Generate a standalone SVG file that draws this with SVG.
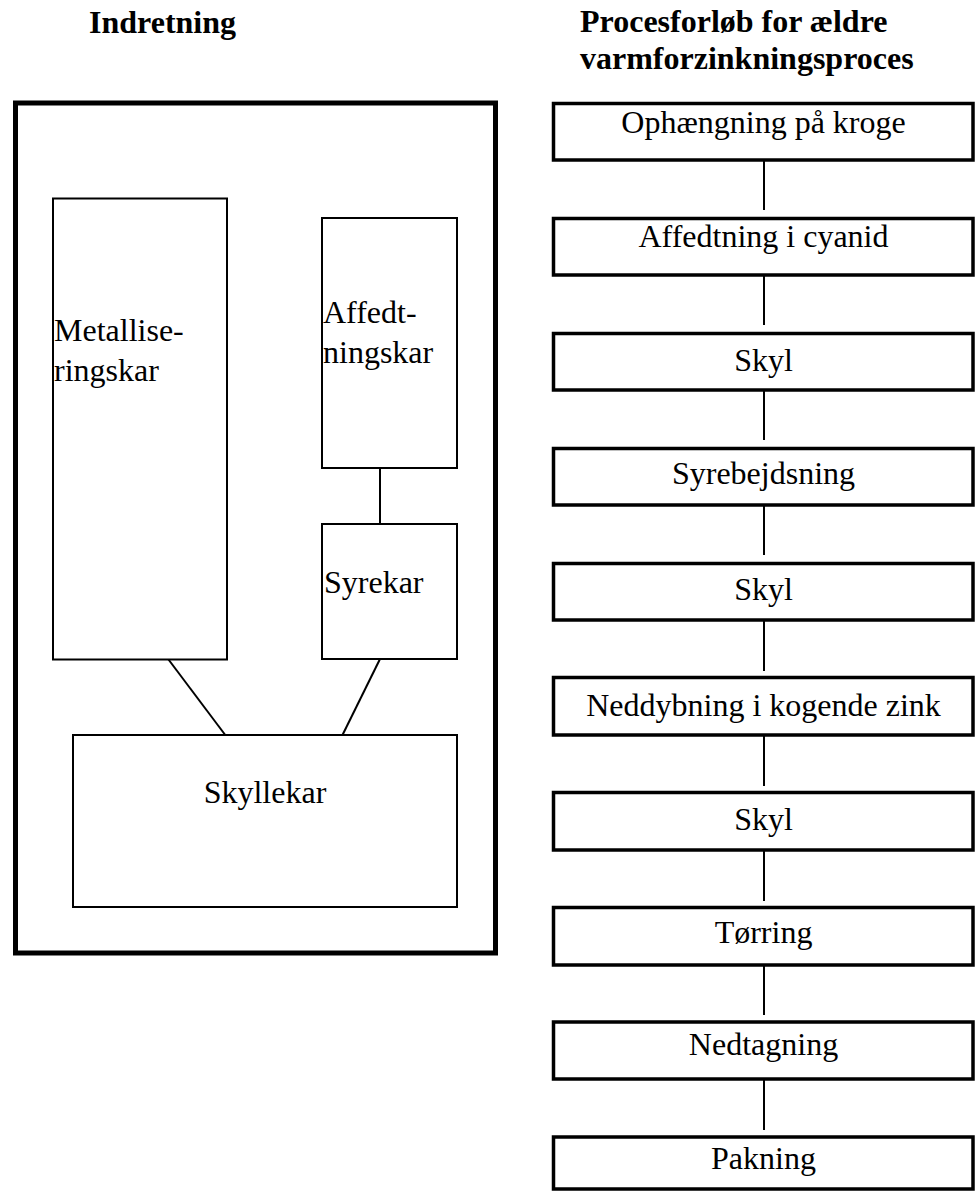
<svg xmlns="http://www.w3.org/2000/svg" width="975" height="1191" viewBox="0 0 975 1191">
<style>
text{font-family:"Liberation Serif","Times New Roman",serif;font-size:32px;fill:#000}
.h{font-weight:bold}
.c{text-anchor:middle}
.thin{fill:#fff;stroke:#000;stroke-width:2}
.step{fill:#fff;stroke:#000;stroke-width:3.5}
.ln{stroke:#000;stroke-width:2;fill:none}
</style>
<rect width="975" height="1191" fill="#fff"/>
<g id="headers">
<text class="h" x="89" y="33">Indretning</text>
<text class="h" x="580" y="32">Procesforløb for ældre</text>
<text class="h" x="580" y="69">varmforzinkningsproces</text>
</g>
<g id="indretning">
<rect x="15.5" y="103" width="480" height="850" fill="#fff" stroke="#000" stroke-width="5"/>
</g>
<g id="connectors">
<line class="ln" x1="380" y1="468" x2="380" y2="524"/>
<line class="ln" x1="168.5" y1="659.5" x2="226" y2="736" stroke-width="3"/>
<line class="ln" x1="380" y1="659" x2="342" y2="736"/>
<line class="ln" x1="764" y1="160" x2="764" y2="210"/>
<line class="ln" x1="764" y1="275" x2="764" y2="325"/>
<line class="ln" x1="764" y1="390" x2="764" y2="440"/>
<line class="ln" x1="764" y1="505" x2="764" y2="555"/>
<line class="ln" x1="764" y1="620" x2="764" y2="671"/>
<line class="ln" x1="764" y1="735" x2="764" y2="786"/>
<line class="ln" x1="764" y1="850" x2="764" y2="901"/>
<line class="ln" x1="764" y1="965" x2="764" y2="1015"/>
<line class="ln" x1="764" y1="1080" x2="764" y2="1130"/>
</g>
<g id="metalliseringskar">
<rect class="thin" x="53" y="198.5" width="174" height="461"/>
<text x="54" y="341">Metallise-</text>
<text x="54" y="381">ringskar</text>
</g>
<g id="affedtningskar">
<rect class="thin" x="322" y="218" width="135" height="250"/>
<text x="323" y="323">Affedt-</text>
<text x="323" y="363">ningskar</text>
</g>
<g id="syrekar">
<rect class="thin" x="322" y="524" width="135" height="135"/>
<text x="324" y="593">Syrekar</text>
</g>
<g id="skyllekar">
<rect class="thin" x="73" y="735" width="384" height="172"/>
<text class="c" x="265" y="803">Skyllekar</text>
</g>
<g id="s1"><rect class="step" x="553.5" y="103.5" width="419.5" height="56.5"/><text class="c" x="763.5" y="133">Ophængning på kroge</text></g>
<g id="s2"><rect class="step" x="553.5" y="218.5" width="419.5" height="56.5"/><text class="c" x="763.5" y="247">Affedtning i cyanid</text></g>
<g id="s3"><rect class="step" x="553.5" y="333.5" width="419.5" height="56.5"/><text class="c" x="763.5" y="371">Skyl</text></g>
<g id="s4"><rect class="step" x="553.5" y="448.5" width="419.5" height="56.5"/><text class="c" x="763.5" y="484">Syrebejdsning</text></g>
<g id="s5"><rect class="step" x="553.5" y="563.5" width="419.5" height="56.5"/><text class="c" x="763.5" y="600">Skyl</text></g>
<g id="s6"><rect class="step" x="553.5" y="677.5" width="419.5" height="57.5"/><text class="c" x="763.5" y="716">Neddybning i kogende zink</text></g>
<g id="s7"><rect class="step" x="553.5" y="792.5" width="419.5" height="57.5"/><text class="c" x="763.5" y="830">Skyl</text></g>
<g id="s8"><rect class="step" x="553.5" y="907.5" width="419.5" height="57.5"/><text class="c" x="763.5" y="943">Tørring</text></g>
<g id="s9"><rect class="step" x="553.5" y="1022" width="419.5" height="57"/><text class="c" x="763.5" y="1055">Nedtagning</text></g>
<g id="s10"><rect class="step" x="553.5" y="1137" width="419.5" height="52"/><text class="c" x="763.5" y="1169">Pakning</text></g>
</svg>
